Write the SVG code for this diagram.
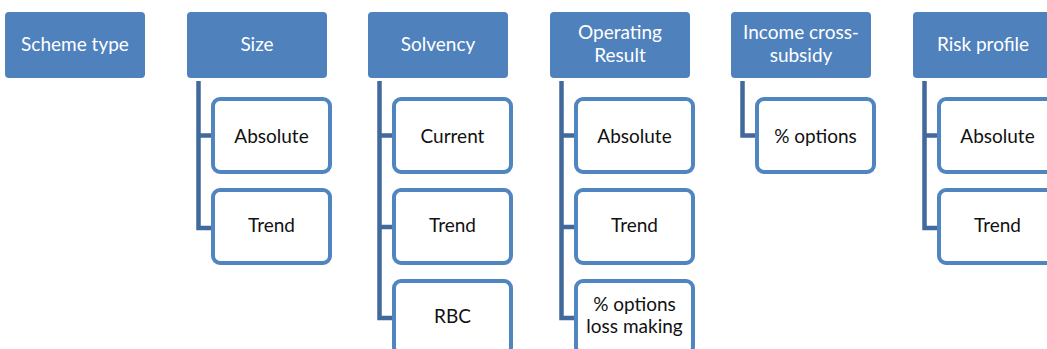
<svg xmlns="http://www.w3.org/2000/svg" width="1047" height="349" viewBox="0 0 1047 349">
<style>
.hdr{fill:#4F81BD;}
.hdrt{fill:#FFFFFF;font-family:Lato,"Liberation Sans",sans-serif;font-size:19px;text-anchor:middle;}
.chd{fill:#FFFFFF;stroke:#5185C0;stroke-width:4;}
.chdt{fill:#111111;font-family:Lato,"Liberation Sans",sans-serif;font-size:19px;text-anchor:middle;}
.con{fill:none;stroke:#41699B;stroke-width:4.5;}
</style>
<rect width="1047" height="349" fill="#FFFFFF"/>
<g id="connectors">
<path class="con" d="M198.5,81 V228 H211 M198.5,135.5 H211"/>
<path class="con" d="M379.5,81 V318 H392 M379.5,135.5 H392 M379.5,227 H392"/>
<path class="con" d="M561.5,81 V318 H574 M561.5,135.5 H574 M561.5,227 H574"/>
<path class="con" d="M742.5,81 V135.5 H755"/>
<path class="con" d="M924.5,81 V228 H937 M924.5,135.5 H937"/>
</g>
<g id="scheme-type">
<rect class="hdr" x="5" y="12" width="140" height="66" rx="4"/>
<text class="hdrt" x="75" y="51">Scheme type</text>
</g>
<g id="size">
<rect class="hdr" x="187" y="12" width="140" height="66" rx="4"/>
<text class="hdrt" x="257" y="51">Size</text>
</g>
<g id="size-absolute">
<rect class="chd" x="213" y="99" width="117" height="73" rx="7"/>
<text class="chdt" x="271.5" y="142.5">Absolute</text>
</g>
<g id="size-trend">
<rect class="chd" x="213" y="190" width="117" height="73" rx="7"/>
<text class="chdt" x="271.5" y="232">Trend</text>
</g>
<g id="solvency">
<rect class="hdr" x="368" y="12" width="140" height="66" rx="4"/>
<text class="hdrt" x="438" y="51">Solvency</text>
</g>
<g id="solvency-current">
<rect class="chd" x="394" y="99" width="117" height="73" rx="7"/>
<text class="chdt" x="452.5" y="142.5">Current</text>
</g>
<g id="solvency-trend">
<rect class="chd" x="394" y="190" width="117" height="73" rx="7"/>
<text class="chdt" x="452.5" y="232">Trend</text>
</g>
<g id="solvency-rbc">
<rect class="chd" x="394" y="281" width="117" height="73" rx="7"/>
<text class="chdt" x="452.5" y="322.5">RBC</text>
</g>
<g id="operating-result">
<rect class="hdr" x="550" y="12" width="140" height="66" rx="4"/>
<text class="hdrt" x="620" y="39">Operating</text>
<text class="hdrt" x="620" y="62">Result</text>
</g>
<g id="operating-absolute">
<rect class="chd" x="576" y="99" width="117" height="73" rx="7"/>
<text class="chdt" x="634.5" y="142.5">Absolute</text>
</g>
<g id="operating-trend">
<rect class="chd" x="576" y="190" width="117" height="73" rx="7"/>
<text class="chdt" x="634.5" y="232">Trend</text>
</g>
<g id="operating-loss">
<rect class="chd" x="576" y="281" width="117" height="73" rx="7"/>
<text class="chdt" x="634.5" y="311">% options</text>
<text class="chdt" x="634.5" y="333">loss making</text>
</g>
<g id="income-cross-subsidy">
<rect class="hdr" x="731" y="12" width="140" height="66" rx="4"/>
<text class="hdrt" x="801" y="39">Income cross-</text>
<text class="hdrt" x="801" y="62">subsidy</text>
</g>
<g id="income-options">
<rect class="chd" x="757" y="99" width="117" height="73" rx="7"/>
<text class="chdt" x="815.5" y="142.5">% options</text>
</g>
<g id="risk-profile">
<rect class="hdr" x="913" y="12" width="140" height="66" rx="4"/>
<text class="hdrt" x="983" y="51">Risk profile</text>
</g>
<g id="risk-absolute">
<rect class="chd" x="939" y="99" width="117" height="73" rx="7"/>
<text class="chdt" x="997.5" y="142.5">Absolute</text>
</g>
<g id="risk-trend">
<rect class="chd" x="939" y="190" width="117" height="73" rx="7"/>
<text class="chdt" x="997.5" y="232">Trend</text>
</g>
</svg>
